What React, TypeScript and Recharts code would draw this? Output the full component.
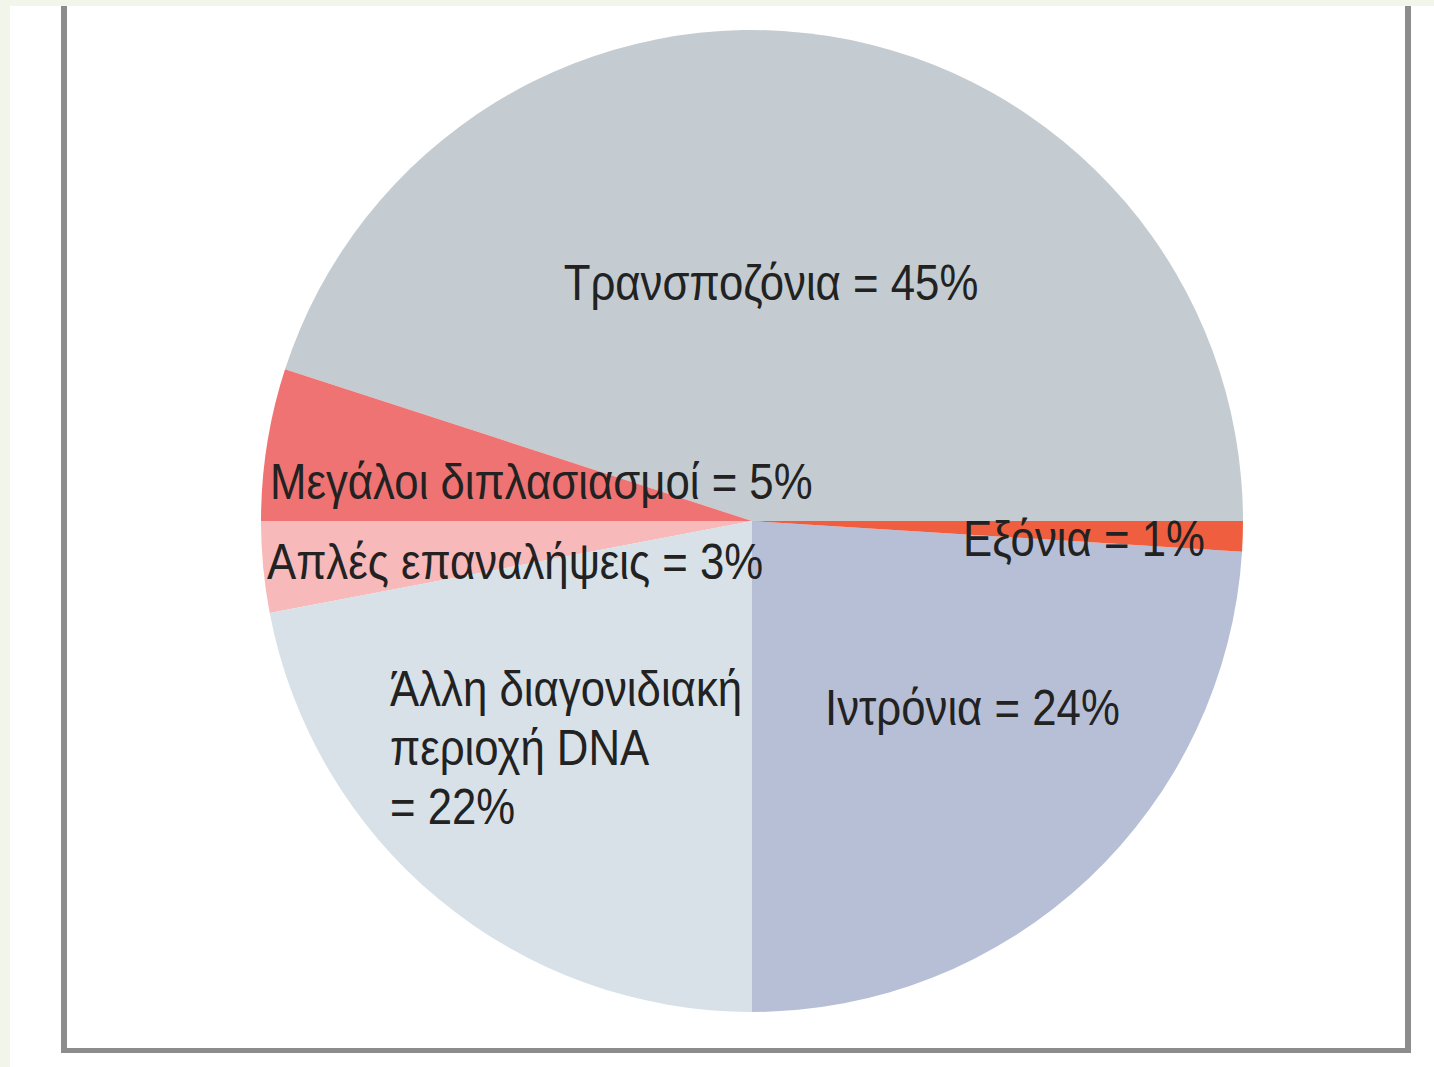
import { PieChart, Pie, Cell } from 'recharts';

// κατηγορίες και ποσοστά του ανθρώπινου γονιδιώματος
const categories = [
  'Ιντρόνια',
  'Εξόνια',
  'Τρανσποζόνια',
  'Μεγάλοι διπλασιασμοί',
  'Απλές επαναλήψεις',
  'Άλλη διαγονιδιακή περιοχή DNA',
];
const percents = [24, 1, 45, 5, 3, 22];
const labelLines = [
  ['Ιντρόνια = 24%'],
  ['Εξόνια = 1%'],
  ['Τρανσποζόνια = 45%'],
  ['Μεγάλοι διπλασιασμοί = 5%'],
  ['Απλές επαναλήψεις = 3%'],
  ['Άλλη διαγονιδιακή', 'περιοχή DNA', '= 22%'],
];

const colors = ['#b7bfd6', '#ef5f3f', '#c4ccd1', '#f07373', '#f7b9b9', '#d7e1e7'];

// θέση κάθε ετικέτας σε σχέση με το κέντρο της πίτας
const labelLayout = [
  { dx: 73, dy: 204, anchor: 'start' },
  { dx: 211, dy: 35, anchor: 'start' },
  { dx: 19, dy: -221, anchor: 'middle' },
  { dx: -482, dy: -22, anchor: 'start' },
  { dx: -485, dy: 58, anchor: 'start' },
  { dx: -362, dy: 185, anchor: 'start' },
];

const data = categories.map((name, i) => ({ name, value: percents[i] }));

// στενή γραμματοσειρά: Liberation Sans συμπιεσμένη οριζόντια
const FONT = '"Liberation Sans", Arial, sans-serif';
const SQUEEZE = 0.875;

function renderLabel(props: any) {
  const { cx, cy, index } = props;
  const pos = labelLayout[index];
  const lines = labelLines[index];
  const x = cx + pos.dx;
  const y = cy + pos.dy;
  return (
    <g key={`lbl-${index}`} transform={`translate(${x},${y}) scale(${SQUEEZE},1)`}>
      <text x={0} y={0} textAnchor={pos.anchor} fill="#222222" fontSize={50} fontFamily={FONT}>
        {lines.map((l, j) => (
          <tspan key={j} x={0} dy={j === 0 ? 0 : 59}>
            {l}
          </tspan>
        ))}
      </text>
    </g>
  );
}

export default function App() {
  return (
    <div
      style={{
        position: 'absolute',
        left: 0,
        top: 0,
        width: 1434,
        height: 1067,
        background: '#f2f5ea',
        overflow: 'hidden',
      }}
    >
      <div
        style={{
          position: 'absolute',
          left: 10,
          top: 6,
          right: 0,
          bottom: 0,
          background: '#ffffff',
        }}
      />
      <div
        style={{
          position: 'absolute',
          left: 61,
          top: 6,
          width: 1338,
          height: 1042,
          borderLeft: '6px solid #8c8c8c',
          borderRight: '6px solid #8c8c8c',
          borderBottom: '5px solid #8c8c8c',
        }}
      />
      <div style={{ position: 'absolute', left: 0, top: 0 }}>
        <PieChart width={1434} height={1067} margin={{ top: 0, right: 0, bottom: 0, left: 0 }}>
          <Pie
            data={data}
            dataKey="value"
            nameKey="name"
            cx={752}
            cy={521}
            outerRadius={491}
            startAngle={-90}
            endAngle={270}
            stroke="none"
            label={renderLabel}
            labelLine={false}
            isAnimationActive={false}
          >
            {data.map((d, i) => (
              <Cell key={d.name} fill={colors[i]} />
            ))}
          </Pie>
        </PieChart>
      </div>
    </div>
  );
}
